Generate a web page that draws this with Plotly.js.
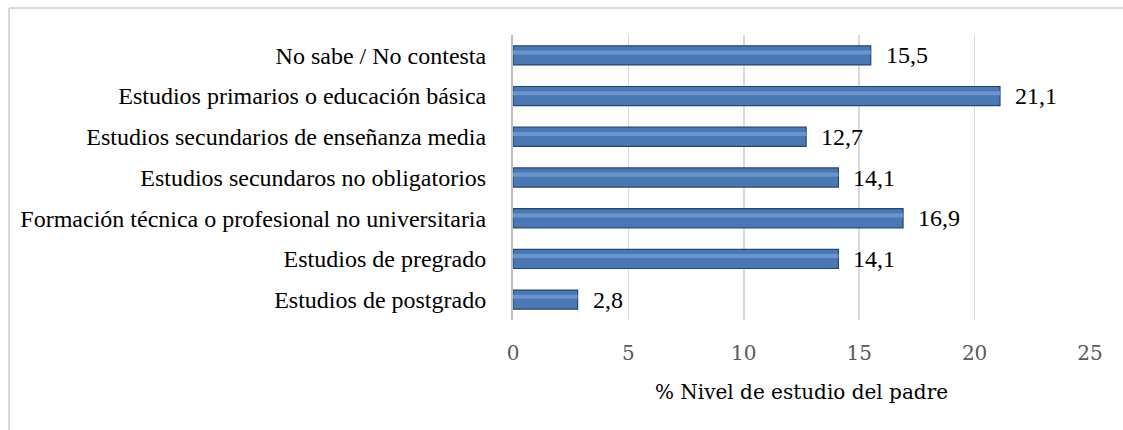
<!DOCTYPE html>
<html>
<head>
<meta charset="utf-8">
<script src="https://cdn.plot.ly/plotly-3.0.1.min.js"></script>
<style>html,body{margin:0;padding:0;background:#fff;}#chart{width:1123px;height:430px;}</style>
</head>
<body>
<div id="chart"></div>
<script>
const categories = [
  "No sabe / No contesta",
  "Estudios primarios o educación básica",
  "Estudios secundarios de enseñanza media",
  "Estudios secundaros no obligatorios",
  "Formación técnica o profesional no universitaria",
  "Estudios de pregrado",
  "Estudios de postgrado"
];
const values = [15.5, 21.1, 12.7, 14.1, 16.9, 14.1, 2.8];
const xTicks = [0, 5, 10, 15, 20, 25];
const xTitle = "% Nivel de estudio del padre";

const L = 513, R = 33, T = 35, B = 110, W = 1123, H = 430;
const pw = W - L - R, ph = H - T - B;
const serif = 'Liberation Serif';

const traces = [
  {
    type: 'bar', orientation: 'h', x: values, y: categories, width: 0.47,
    marker: {color: '#4a78b5', line: {color: '#25466f', width: 1.2}},
    hoverinfo: 'skip'
  },
  {
    type: 'bar', orientation: 'h', x: values, y: categories, width: 0.1, offset: -0.12,
    marker: {color: '#6a94cc', line: {width: 0}},
    hoverinfo: 'skip'
  }
];

const annotations = values.map((v, i) => ({
  x: v, y: categories[i], xref: 'x', yref: 'y',
  text: v.toFixed(1).replace('.', ','),
  showarrow: false, xanchor: 'left', xshift: 13,
  font: {family: serif, size: 24, color: '#000'}
}));

const px2x = p => (p - L) / pw;
const py2y = p => (T + ph - p) / ph;

const layout = {
  width: W, height: H,
  margin: {l: L, r: R, t: T, b: B, pad: 0},
  paper_bgcolor: '#fff', plot_bgcolor: '#fff',
  barmode: 'overlay',
  showlegend: false,
  xaxis: {
    range: [0, 25], tickvals: xTicks, ticktext: xTicks.map(String),
    showgrid: true, gridcolor: '#d9d9d9', gridwidth: 1.5,
    zeroline: false, showline: false, ticks: '',
    ticklabelstandoff: 19,
    tickfont: {family: 'DejaVu Serif', size: 20, color: '#595959'},
    title: {text: xTitle, standoff: 20, font: {family: 'DejaVu Serif', size: 20, color: '#000'}},
    fixedrange: true
  },
  yaxis: {
    autorange: 'reversed', type: 'category',
    showgrid: false, zeroline: false,
    showline: true, linecolor: '#bfbfbf', linewidth: 2,
    ticks: '', ticklabelstandoff: 20,
    tickfont: {family: serif, size: 24, color: '#000'},
    fixedrange: true
  },
  annotations: annotations,
  shapes: [
    {type: 'line', xref: 'paper', yref: 'paper', layer: 'below',
     x0: px2x(9), x1: px2x(W + 5), y0: py2y(8), y1: py2y(8),
     line: {color: '#d9d9d9', width: 2}},
    {type: 'line', xref: 'paper', yref: 'paper', layer: 'below',
     x0: px2x(9), x1: px2x(9), y0: py2y(8), y1: py2y(H + 5),
     line: {color: '#d9d9d9', width: 2}}
  ],
  separators: ',.'
};

Plotly.newPlot('chart', traces, layout, {displayModeBar: false, staticPlot: true});
</script>
</body>
</html>
